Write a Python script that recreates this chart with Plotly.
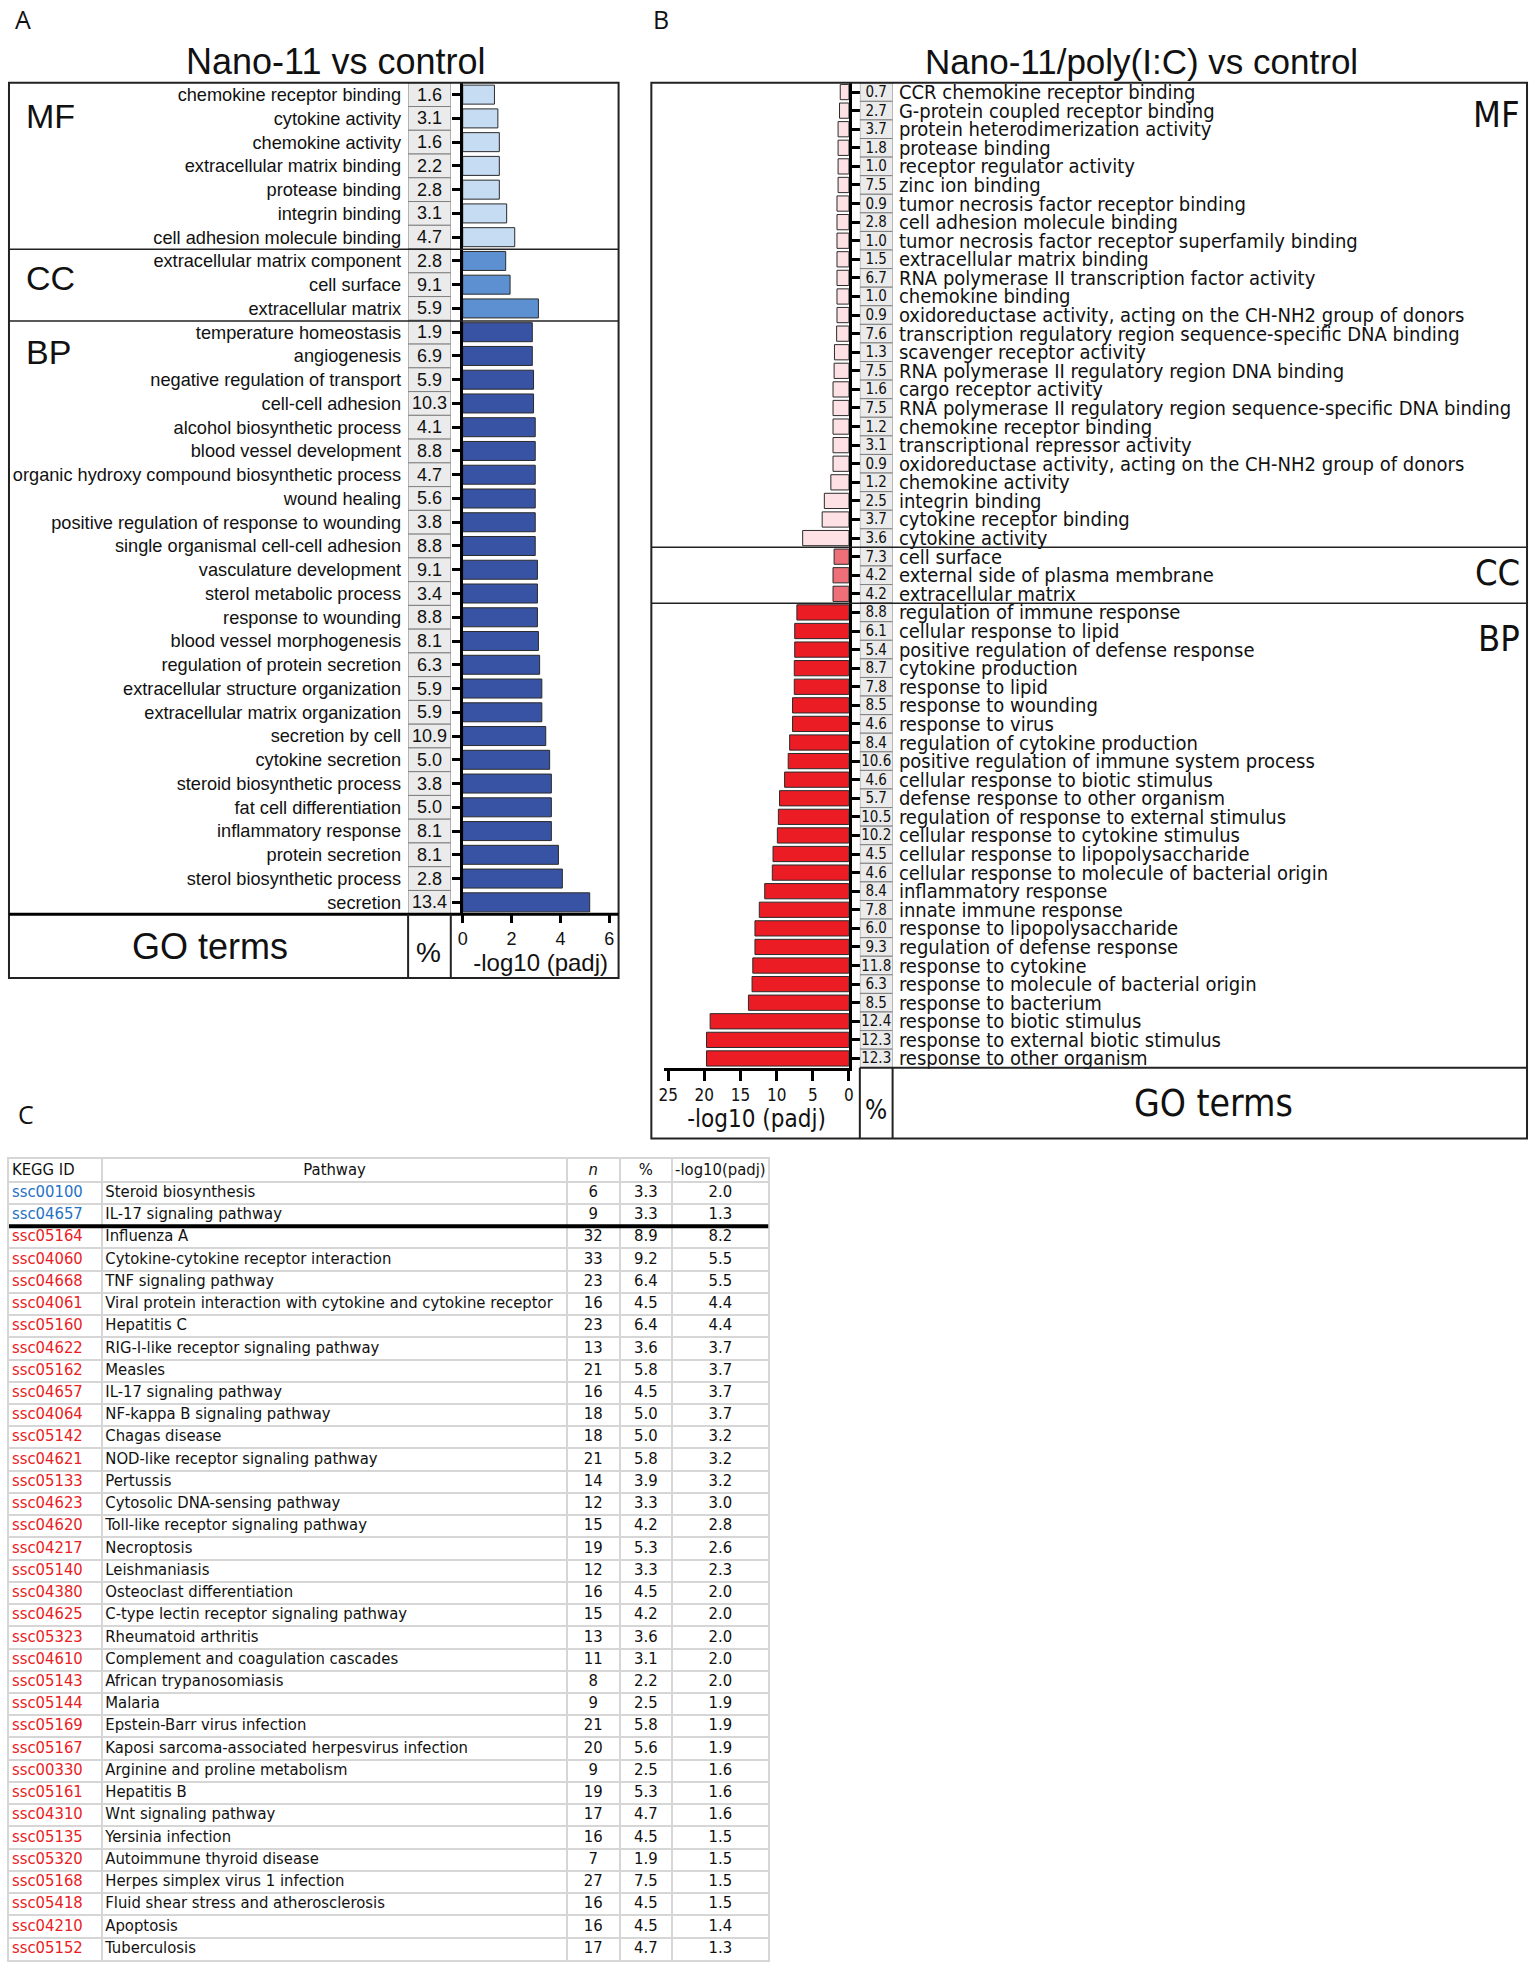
import plotly.graph_objects as go

W, H = 1535, 1966

# ---------------- Panel A: Nano-11 vs control ----------------
a_groups = ["MF"] * 7 + ["CC"] * 3 + ["BP"] * 25
a_terms = [
    "chemokine receptor binding", "cytokine activity", "chemokine activity",
    "extracellular matrix binding", "protease binding", "integrin binding",
    "cell adhesion molecule binding",
    "extracellular matrix component", "cell surface", "extracellular matrix",
    "temperature homeostasis", "angiogenesis", "negative regulation of transport",
    "cell-cell adhesion", "alcohol biosynthetic process", "blood vessel development",
    "organic hydroxy compound biosynthetic process", "wound healing",
    "positive regulation of response to wounding", "single organismal cell-cell adhesion",
    "vasculature development", "sterol metabolic process", "response to wounding",
    "blood vessel morphogenesis", "regulation of protein secretion",
    "extracellular structure organization", "extracellular matrix organization",
    "secretion by cell", "cytokine secretion", "steroid biosynthetic process",
    "fat cell differentiation", "inflammatory response", "protein secretion",
    "sterol biosynthetic process", "secretion",
]
a_pct = [1.6, 3.1, 1.6, 2.2, 2.8, 3.1, 4.7,
         2.8, 9.1, 5.9,
         1.9, 6.9, 5.9, 10.3, 4.1, 8.8, 4.7, 5.6, 3.8, 8.8, 9.1, 3.4, 8.8, 8.1,
         6.3, 5.9, 5.9, 10.9, 5.0, 3.8, 5.0, 8.1, 8.1, 2.8, 13.4]
a_val = [1.30, 1.44, 1.50, 1.50, 1.50, 1.80, 2.13,
         1.76, 1.94, 3.10,
         2.85, 2.85, 2.90, 2.90, 2.97, 2.97, 2.97, 2.97, 2.97, 2.97, 3.06, 3.06,
         3.06, 3.10, 3.15, 3.24, 3.24, 3.40, 3.56, 3.63, 3.63, 3.63, 3.92, 4.08, 5.20]
a_ticks = [0, 2, 4, 6]

# ---------------- Panel B: Nano-11/poly(I:C) vs control ----------------
b_groups = ["MF"] * 25 + ["CC"] * 3 + ["BP"] * 25
b_terms = [
    "CCR chemokine receptor binding", "G-protein coupled receptor binding",
    "protein heterodimerization activity", "protease binding",
    "receptor regulator activity", "zinc ion binding",
    "tumor necrosis factor receptor binding", "cell adhesion molecule binding",
    "tumor necrosis factor receptor superfamily binding", "extracellular matrix binding",
    "RNA polymerase II transcription factor activity", "chemokine binding",
    "oxidoreductase activity, acting on the CH-NH2 group of donors",
    "transcription regulatory region sequence-specific DNA binding",
    "scavenger receptor activity", "RNA polymerase II regulatory region DNA binding",
    "cargo receptor activity",
    "RNA polymerase II regulatory region sequence-specific DNA binding",
    "chemokine receptor binding", "transcriptional repressor activity",
    "oxidoreductase activity, acting on the CH-NH2 group of donors",
    "chemokine activity", "integrin binding", "cytokine receptor binding",
    "cytokine activity",
    "cell surface", "external side of plasma membrane", "extracellular matrix",
    "regulation of immune response", "cellular response to lipid",
    "positive regulation of defense response", "cytokine production",
    "response to lipid", "response to wounding", "response to virus",
    "regulation of cytokine production", "positive regulation of immune system process",
    "cellular response to biotic stimulus", "defense response to other organism",
    "regulation of response to external stimulus", "cellular response to cytokine stimulus",
    "cellular response to lipopolysaccharide",
    "cellular response to molecule of bacterial origin", "inflammatory response",
    "innate immune response", "response to lipopolysaccharide",
    "regulation of defense response", "response to cytokine",
    "response to molecule of bacterial origin", "response to bacterium",
    "response to biotic stimulus", "response to external biotic stimulus",
    "response to other organism",
]
b_pct = [0.7, 2.7, 3.7, 1.8, 1.0, 7.5, 0.9, 2.8, 1.0, 1.5, 6.7, 1.0, 0.9, 7.6,
         1.3, 7.5, 1.6, 7.5, 1.2, 3.1, 0.9, 1.2, 2.5, 3.7, 3.6,
         7.3, 4.2, 4.2,
         8.8, 6.1, 5.4, 8.7, 7.8, 8.5, 4.6, 8.4, 10.6, 4.6, 5.7, 10.5, 10.2, 4.5,
         4.6, 8.4, 7.8, 6.0, 9.3, 11.8, 6.3, 8.5, 12.4, 12.3, 12.3]
b_val = [1.2, 1.3, 1.5, 1.5, 1.5, 1.5, 1.65, 1.65, 1.65, 1.65, 1.65, 1.65, 1.65,
         1.7, 2.0, 2.05, 2.2, 2.2, 2.2, 2.2, 2.2, 2.5, 3.4, 3.7, 6.4,
         2.05, 2.2, 2.2,
         7.2, 7.5, 7.5, 7.56, 7.56, 7.8, 7.8, 8.2, 8.4, 8.9, 9.6, 9.76, 9.9, 10.5,
         10.6, 11.65, 12.4, 13.0, 13.0, 13.3, 13.4, 13.9, 19.2, 19.7, 19.7]
b_ticks = [0, 5, 10, 15, 20, 25]

# ---------------- Panel C: KEGG table ----------------
kegg_set = ["Nano-11"] * 2 + ["Nano-11/poly(I:C)"] * 33
kegg_id = ["ssc00100", "ssc04657",
           "ssc05164", "ssc04060", "ssc04668", "ssc04061", "ssc05160", "ssc04622",
           "ssc05162", "ssc04657", "ssc04064", "ssc05142", "ssc04621", "ssc05133",
           "ssc04623", "ssc04620", "ssc04217", "ssc05140", "ssc04380", "ssc04625",
           "ssc05323", "ssc04610", "ssc05143", "ssc05144", "ssc05169", "ssc05167",
           "ssc00330", "ssc05161", "ssc04310", "ssc05135", "ssc05320", "ssc05168",
           "ssc05418", "ssc04210", "ssc05152"]
kegg_pathway = ["Steroid biosynthesis", "IL-17 signaling pathway",
                "Influenza A", "Cytokine-cytokine receptor interaction",
                "TNF signaling pathway",
                "Viral protein interaction with cytokine and cytokine receptor",
                "Hepatitis C", "RIG-I-like receptor signaling pathway", "Measles",
                "IL-17 signaling pathway", "NF-kappa B signaling pathway",
                "Chagas disease", "NOD-like receptor signaling pathway", "Pertussis",
                "Cytosolic DNA-sensing pathway", "Toll-like receptor signaling pathway",
                "Necroptosis", "Leishmaniasis", "Osteoclast differentiation",
                "C-type lectin receptor signaling pathway", "Rheumatoid arthritis",
                "Complement and coagulation cascades", "African trypanosomiasis",
                "Malaria", "Epstein-Barr virus infection",
                "Kaposi sarcoma-associated herpesvirus infection",
                "Arginine and proline metabolism", "Hepatitis B", "Wnt signaling pathway",
                "Yersinia infection", "Autoimmune thyroid disease",
                "Herpes simplex virus 1 infection", "Fluid shear stress and atherosclerosis",
                "Apoptosis", "Tuberculosis"]
kegg_n = [6, 9, 32, 33, 23, 16, 23, 13, 21, 16, 18, 18, 21, 14, 12, 15, 19, 12, 16,
          15, 13, 11, 8, 9, 21, 20, 9, 19, 17, 16, 7, 27, 16, 16, 17]
kegg_pct = [3.3, 3.3, 8.9, 9.2, 6.4, 4.5, 6.4, 3.6, 5.8, 4.5, 5.0, 5.0, 5.8, 3.9,
            3.3, 4.2, 5.3, 3.3, 4.5, 4.2, 3.6, 3.1, 2.2, 2.5, 5.8, 5.6, 2.5, 5.3,
            4.7, 4.5, 1.9, 7.5, 4.5, 4.5, 4.7]
kegg_logp = [2.0, 1.3, 8.2, 5.5, 5.5, 4.4, 4.4, 3.7, 3.7, 3.7, 3.7, 3.2, 3.2, 3.2,
             3.0, 2.8, 2.6, 2.3, 2.0, 2.0, 2.0, 2.0, 2.0, 1.9, 1.9, 1.9, 1.6, 1.6,
             1.6, 1.5, 1.5, 1.5, 1.5, 1.4, 1.3]
kegg_header = ["KEGG ID", "Pathway", "<i>n</i>", "%", "-log10(padj)"]

# ---------------- styling ----------------
SANS = "Liberation Sans, Arial, Helvetica, sans-serif"
NARROW = "Liberation Sans Narrow, Arial Narrow, DejaVu Sans Condensed, Liberation Sans, sans-serif"
a_colors = {"MF": "#c6dcf3", "CC": "#5d90d1", "BP": "#3953a4"}
b_colors = {"MF": "#fde1e4", "CC": "#ef6f79", "BP": "#ec1c24"}
set_colors = {"Nano-11": "#1f72c4", "Nano-11/poly(I:C)": "#ea1c24"}
GRID = "#d6d6d6"


def fx(px):
    return px / W


def fy(py):
    return 1 - py / H


fig = go.Figure()
a_idx = list(range(len(a_terms)))
b_idx = list(range(len(b_terms)))

# Panel A bars
fig.add_trace(go.Bar(
    x=a_val, y=a_idx, orientation="h", xaxis="x", yaxis="y", width=0.8,
    marker=dict(color=[a_colors[g] for g in a_groups], line=dict(color="#2b2b2b", width=1)),
    showlegend=False, hoverinfo="x+y"))
# Panel A % boxes
fig.add_trace(go.Bar(
    x=[1] * len(a_pct), y=a_idx, orientation="h", xaxis="x2", yaxis="y", width=1,
    marker=dict(color="#ebebeb", line=dict(color="#808080", width=1)),
    text=[f"{p:.1f}" for p in a_pct], textposition="inside", insidetextanchor="middle",
    textangle=0, constraintext="none",
    textfont=dict(family=SANS, size=18, color="#111"), showlegend=False, hoverinfo="text"))

# Panel B bars
fig.add_trace(go.Bar(
    x=b_val, y=b_idx, orientation="h", xaxis="x3", yaxis="y2", width=0.82,
    marker=dict(color=[b_colors[g] for g in b_groups], line=dict(color="#2b2b2b", width=1)),
    showlegend=False, hoverinfo="x+y"))
# Panel B % boxes
fig.add_trace(go.Bar(
    x=[1] * len(b_pct), y=b_idx, orientation="h", xaxis="x4", yaxis="y2", width=1,
    marker=dict(color="#ebebeb", line=dict(color="#808080", width=1)),
    text=[f"{p:.1f}" for p in b_pct], textposition="inside", insidetextanchor="middle",
    textangle=0, constraintext="none",
    textfont=dict(family=NARROW, size=15, color="#111"), showlegend=False, hoverinfo="text"))

# Panel C table drawn on its own axes: one row per unit on y, columns in px units on x
ROW_H = 22.3
TABLE_TOP = 1160
COL_EDGES = [0, 94, 562, 615, 668, 765]
rows = list(range(1, len(kegg_id) + 1))
n_rows_total = len(kegg_id) + 1
col_left = [COL_EDGES[0] + 3, COL_EDGES[1] + 3]
col_mid = [(COL_EDGES[i] + COL_EDGES[i + 1]) / 2 for i in range(5)]
TFONT = 16.5


def text_col(xpos, values, anchor, colors="#111"):
    fig.add_trace(go.Scatter(
        x=[xpos] * len(values), y=rows, mode="text", text=values, textposition=anchor,
        textfont=dict(family=NARROW, size=TFONT, color=colors), xaxis="x5", yaxis="y5",
        showlegend=False, hoverinfo="text", cliponaxis=False))


text_col(col_left[0], kegg_id, "middle right", [set_colors[s] for s in kegg_set])
text_col(col_left[1], kegg_pathway, "middle right")
text_col(col_mid[2], [str(v) for v in kegg_n], "middle center")
text_col(col_mid[3], [f"{p:.1f}" for p in kegg_pct], "middle center")
text_col(col_mid[4], [f"{p:.1f}" for p in kegg_logp], "middle center")
fig.add_trace(go.Scatter(
    x=[col_left[0], col_mid[1], col_mid[2], col_mid[3], col_mid[4]], y=[0] * 5,
    mode="text", text=kegg_header,
    textposition=["middle right", "middle center", "middle center", "middle center",
                  "middle center"],
    textfont=dict(family=NARROW, size=TFONT, color="#111"), xaxis="x5", yaxis="y5",
    showlegend=False, hoverinfo="text", cliponaxis=False))

# ---------------- layout / axes ----------------
A_X0, A_X1 = 460, 617
A_UNIT = 24.6
B_X0, B_X1 = 663, 849
B_UNIT = 7.28

layout = dict(
    width=W, height=H, margin=dict(l=0, r=0, t=0, b=0),
    paper_bgcolor="white", plot_bgcolor="rgba(0,0,0,0)", barmode="overlay",
    font=dict(family=SANS, color="#111"),
    xaxis=dict(domain=[fx(A_X0), fx(A_X1)], range=[0, (A_X1 - A_X0) / A_UNIT], anchor="y",
               tickvals=a_ticks, ticks="outside", ticklen=8, tickwidth=3, tickcolor="black",
               showgrid=False, zeroline=False, showline=False,
               tickfont=dict(size=18, family=SANS),
               title=dict(text="-log10 (padj)", font=dict(size=24, family=SANS), standoff=2)),
    yaxis=dict(domain=[fy(914), fy(80)], range=[len(a_terms) - 0.5, -0.5], anchor="x",
               tickvals=a_idx, ticktext=a_terms, ticks="outside", ticklen=8, tickwidth=3,
               tickcolor="black", showline=True, linewidth=3, linecolor="black",
               showgrid=False, zeroline=False, ticklabelstandoff=47,
               tickfont=dict(size=18.2, family=SANS)),
    xaxis2=dict(domain=[fx(405), fx(448)], range=[0, 1], anchor="y", visible=False),
    xaxis3=dict(domain=[fx(B_X0), fx(B_X1)], range=[(B_X1 - B_X0) / B_UNIT, 0], anchor="y2",
                tickvals=b_ticks, ticks="outside", ticklen=10, tickwidth=3, tickcolor="black",
                showgrid=False, zeroline=False, showline=True, linewidth=3, linecolor="black",
                tickfont=dict(size=17, family=NARROW),
                title=dict(text="-log10 (padj)", font=dict(size=24, family=NARROW), standoff=3)),
    yaxis2=dict(domain=[fy(1068), fy(80)], range=[len(b_terms) - 0.5, -0.5], anchor="x3",
                side="right", tickvals=b_idx, ticktext=b_terms, ticks="outside", ticklen=10,
                tickwidth=3, tickcolor="black", showline=True, linewidth=3, linecolor="black",
                showgrid=False, zeroline=False, ticklabelstandoff=33,
                tickfont=dict(size=20, family=NARROW)),
    xaxis4=dict(domain=[fx(860), fx(893)], range=[0, 1], anchor="y2", visible=False),
    xaxis5=dict(domain=[fx(3), fx(3 + COL_EDGES[-1])], range=[COL_EDGES[0], COL_EDGES[-1]],
                anchor="y5", tickvals=COL_EDGES, showticklabels=False, ticks="",
                showgrid=True, gridcolor=GRID, gridwidth=2, zeroline=False,
                showline=True, mirror=True, linecolor=GRID, linewidth=2),
    yaxis5=dict(domain=[fy(TABLE_TOP + n_rows_total * ROW_H), fy(TABLE_TOP)],
                range=[n_rows_total - 0.5, -0.5], anchor="x5",
                tickvals=[i + 0.5 for i in range(-1, n_rows_total)], showticklabels=False,
                ticks="", showgrid=True, gridcolor=GRID, gridwidth=2, zeroline=False,
                showline=True, mirror=True, linecolor=GRID, linewidth=2),
)
fig.update_layout(**layout)

# ---------------- frames and separators ----------------
def hline(x0, x1, y, w=1.5, c="#222"):
    fig.add_shape(type="line", xref="paper", yref="paper", x0=fx(x0), x1=fx(x1),
                  y0=fy(y), y1=fy(y), line=dict(color=c, width=w))


def vline(x, y0, y1, w=2, c="#222"):
    fig.add_shape(type="line", xref="paper", yref="paper", x0=fx(x), x1=fx(x),
                  y0=fy(y0), y1=fy(y1), line=dict(color=c, width=w))


def rect(x0, y0, x1, y1, w=2):
    fig.add_shape(type="rect", xref="paper", yref="paper", x0=fx(x0), x1=fx(x1),
                  y0=fy(y1), y1=fy(y0), line=dict(color="#222", width=w))


# Panel A frame
rect(3, 80, 617, 978)
hline(3, 617, 247)
hline(3, 617, 319)
hline(3, 617, 914, w=3, c="black")
vline(405, 914, 978)
vline(448, 914, 978)

# Panel B frame
rect(650, 80, 1532, 1139)
hline(650, 1532, 546)
hline(650, 1532, 602)
hline(860, 1532, 1068, w=2)
vline(860, 1068, 1139)
vline(893, 1068, 1139)

# Table: thick separator between the Nano-11 rows and the Nano-11/poly(I:C) rows
n_first = kegg_set.count("Nano-11")
fig.add_shape(type="line", xref="x5", yref="y5", x0=COL_EDGES[0], x1=COL_EDGES[-1],
              y0=n_first + 0.5, y1=n_first + 0.5, line=dict(color="black", width=4))


def note(text, x, y, size, family=SANS, xanchor="center", color="#111"):
    fig.add_annotation(text=text, x=fx(x), y=fy(y), xref="paper", yref="paper",
                       showarrow=False, xanchor=xanchor, yanchor="middle",
                       font=dict(size=size, family=family, color=color))


LETTER = "Open Sans, Noto Sans, sans-serif"
note("A", 17, 16, 25, LETTER)
note("B", 660, 16, 25, LETTER)
note("C", 20, 1114, 25, LETTER)

note("Nano-11 vs control", 332, 59, 36)
note("Nano-11/poly(I:C) vs control", 1144, 59, 35)

for g, y in zip(["MF", "CC", "BP"], [113, 276, 350]):
    note(g, 18, y, 34, xanchor="left")
for g, y in zip(["MF", "CC", "BP"], [112, 571, 637]):
    note(g, 1527, y, 36, NARROW, xanchor="right")

note("GO terms", 205, 946, 36)
note("%", 426, 952, 28)
note("GO terms", 1216, 1104, 37, NARROW)
note("%", 876, 1110, 26, NARROW)

fig.write_html("out.html", config={"displayModeBar": False},
               post_script="document.body.style.margin='0px';")
